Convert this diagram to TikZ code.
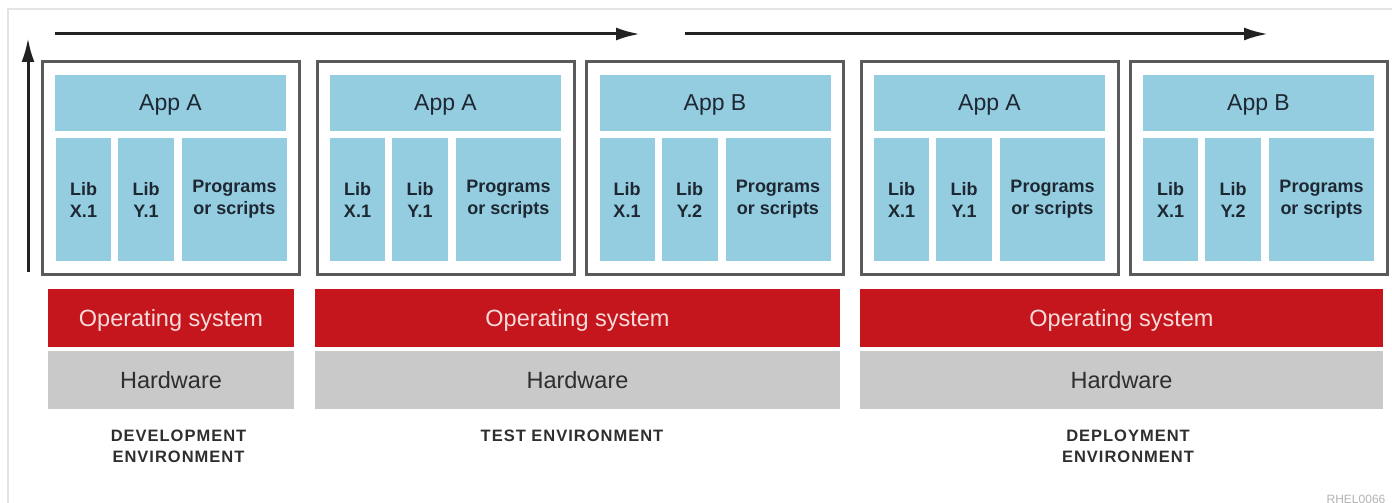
\documentclass[tikz,border=0pt]{standalone}
\usepackage{fontspec}
\setsansfont{Liberation Sans}
\usetikzlibrary{arrows.meta, positioning}
\definecolor{libblue}{HTML}{94CDE0}
\definecolor{osred}{HTML}{C4161C}
\definecolor{ostext}{HTML}{F8DCDC}
\definecolor{hwgray}{HTML}{C9C9C9}
\definecolor{framegray}{HTML}{5A5A5A}
\definecolor{navytext}{HTML}{1E2833}
\definecolor{darktext}{HTML}{2E2E2E}
\definecolor{arrowblack}{HTML}{222222}
\definecolor{edgegray}{HTML}{E4E4E4}

\begin{document}
\begin{tikzpicture}[
    x=1pt, y=-1pt,
    every node/.style={font=\sffamily, outer sep=0pt, inner sep=0pt},
    frame/.style={
        draw=framegray, line width=3pt,
        minimum width=257pt, minimum height=212pt
    },
    appbar/.style={
        fill=libblue, text=navytext,
        minimum width=231pt, minimum height=56pt,
        text depth=0pt,
        font=\sffamily\fontsize{23}{27}\selectfont
    },
    libbox/.style={
        fill=libblue, text=navytext,
        minimum height=123pt,
        align=center,
        font=\sffamily\bfseries\fontsize{18}{22}\selectfont
    },
    osbar/.style={
        fill=osred, text=ostext,
        minimum height=58pt,
        text depth=0pt,
        font=\sffamily\fontsize{23.5}{27}\selectfont
    },
    hwbar/.style={
        fill=hwgray, text=darktext,
        minimum height=58pt,
        text depth=0pt,
        font=\sffamily\fontsize{23.5}{27}\selectfont
    },
    envlabel/.style={
        text=darktext, align=center,
        font=\sffamily\bfseries\fontsize{16.5}{21}\selectfont\addfontfeature{LetterSpace=6}
    },
    flow/.style={
        -{Latex[length=24pt, width=13pt]},
        line width=3pt,
        color=arrowblack
    }
]
\useasboundingbox (0,0) rectangle (1392,503);
\clip (0,0) rectangle (1392,503);

% screenshot edge
\draw[edgegray, line width=1.5pt] (8,503) -- (8,9) -- (1392,9);

% Development environment
\node[frame] (devbox) at (170.5,168) {};
\node[appbar] (devapp) at (170.5,103) {App A};
\node[libbox, minimum width=55pt, anchor=west] (devlibx) at (56,199.5) {Lib\\X.1};
\node[libbox, minimum width=56pt, right=7pt of devlibx] (devliby) {Lib\\Y.1};
\node[libbox, minimum width=105pt, right=8pt of devliby] (devprog) {Programs\\or scripts};

% Test environment, app A
\node[frame] (testboxa) at (445.5,168) {};
\node[appbar] (testappa) at (445.5,103) {App A};
\node[libbox, minimum width=55pt, anchor=west] (testlibxa) at (330,199.5) {Lib\\X.1};
\node[libbox, minimum width=56pt, right=7pt of testlibxa] (testlibya) {Lib\\Y.1};
\node[libbox, minimum width=105pt, right=8pt of testlibya] (testproga) {Programs\\or scripts};

% Test environment, app B
\node[frame] (testboxb) at (715,168) {};
\node[appbar] (testappb) at (715,103) {App B};
\node[libbox, minimum width=55pt, anchor=west] (testlibxb) at (599.5,199.5) {Lib\\X.1};
\node[libbox, minimum width=56pt, right=7pt of testlibxb] (testlibyb) {Lib\\Y.2};
\node[libbox, minimum width=105pt, right=8pt of testlibyb] (testprogb) {Programs\\or scripts};

% Deployment environment, app A
\node[frame] (depboxa) at (989.5,168) {};
\node[appbar] (depappa) at (989.5,103) {App A};
\node[libbox, minimum width=55pt, anchor=west] (deplibxa) at (874,199.5) {Lib\\X.1};
\node[libbox, minimum width=56pt, right=7pt of deplibxa] (deplibya) {Lib\\Y.1};
\node[libbox, minimum width=105pt, right=8pt of deplibya] (depproga) {Programs\\or scripts};

% Deployment environment, app B
\node[frame] (depboxb) at (1258.5,168) {};
\node[appbar] (depappb) at (1258.5,103) {App B};
\node[libbox, minimum width=55pt, anchor=west] (deplibxb) at (1143,199.5) {Lib\\X.1};
\node[libbox, minimum width=56pt, right=7pt of deplibxb] (deplibyb) {Lib\\Y.2};
\node[libbox, minimum width=105pt, right=8pt of deplibyb] (depprogb) {Programs\\or scripts};

% Operating systems and hardware
\node[osbar, minimum width=246pt] (devos) at (171,318) {Operating system};
\node[hwbar, minimum width=246pt] (devhw) at (171,380) {Hardware};
\node[osbar, minimum width=525pt] (testos) at (577.5,318) {Operating system};
\node[hwbar, minimum width=525pt] (testhw) at (577.5,380) {Hardware};
\node[osbar, minimum width=523pt] (depos) at (1121.5,318) {Operating system};
\node[hwbar, minimum width=523pt] (dephw) at (1121.5,380) {Hardware};

% Environment labels
\node[envlabel] (devlabel) at (178.5,446.5) {DEVELOPMENT\\ENVIRONMENT};
\node[envlabel] (testlabel) at (572,436) {TEST ENVIRONMENT};
\node[envlabel] (deplabel) at (1128,446.5) {DEPLOYMENT\\ENVIRONMENT};
\node[text=gray!60, font=\sffamily\fontsize{12}{14}\selectfont] (figid) at (1356,499) {RHEL0066};

% Arrows
\coordinate (stackbase) at (28,272);
\coordinate (stacktop) at (28,38);
\coordinate (devstart) at (55,34);
\coordinate (testend) at (640,34);
\coordinate (teststart) at (685,34);
\coordinate (depend) at (1268,34);
\draw[flow] (stackbase) -- (stacktop);
\draw[flow] (devstart) -- (testend);
\draw[flow] (teststart) -- (depend);

\end{tikzpicture}
\end{document}
